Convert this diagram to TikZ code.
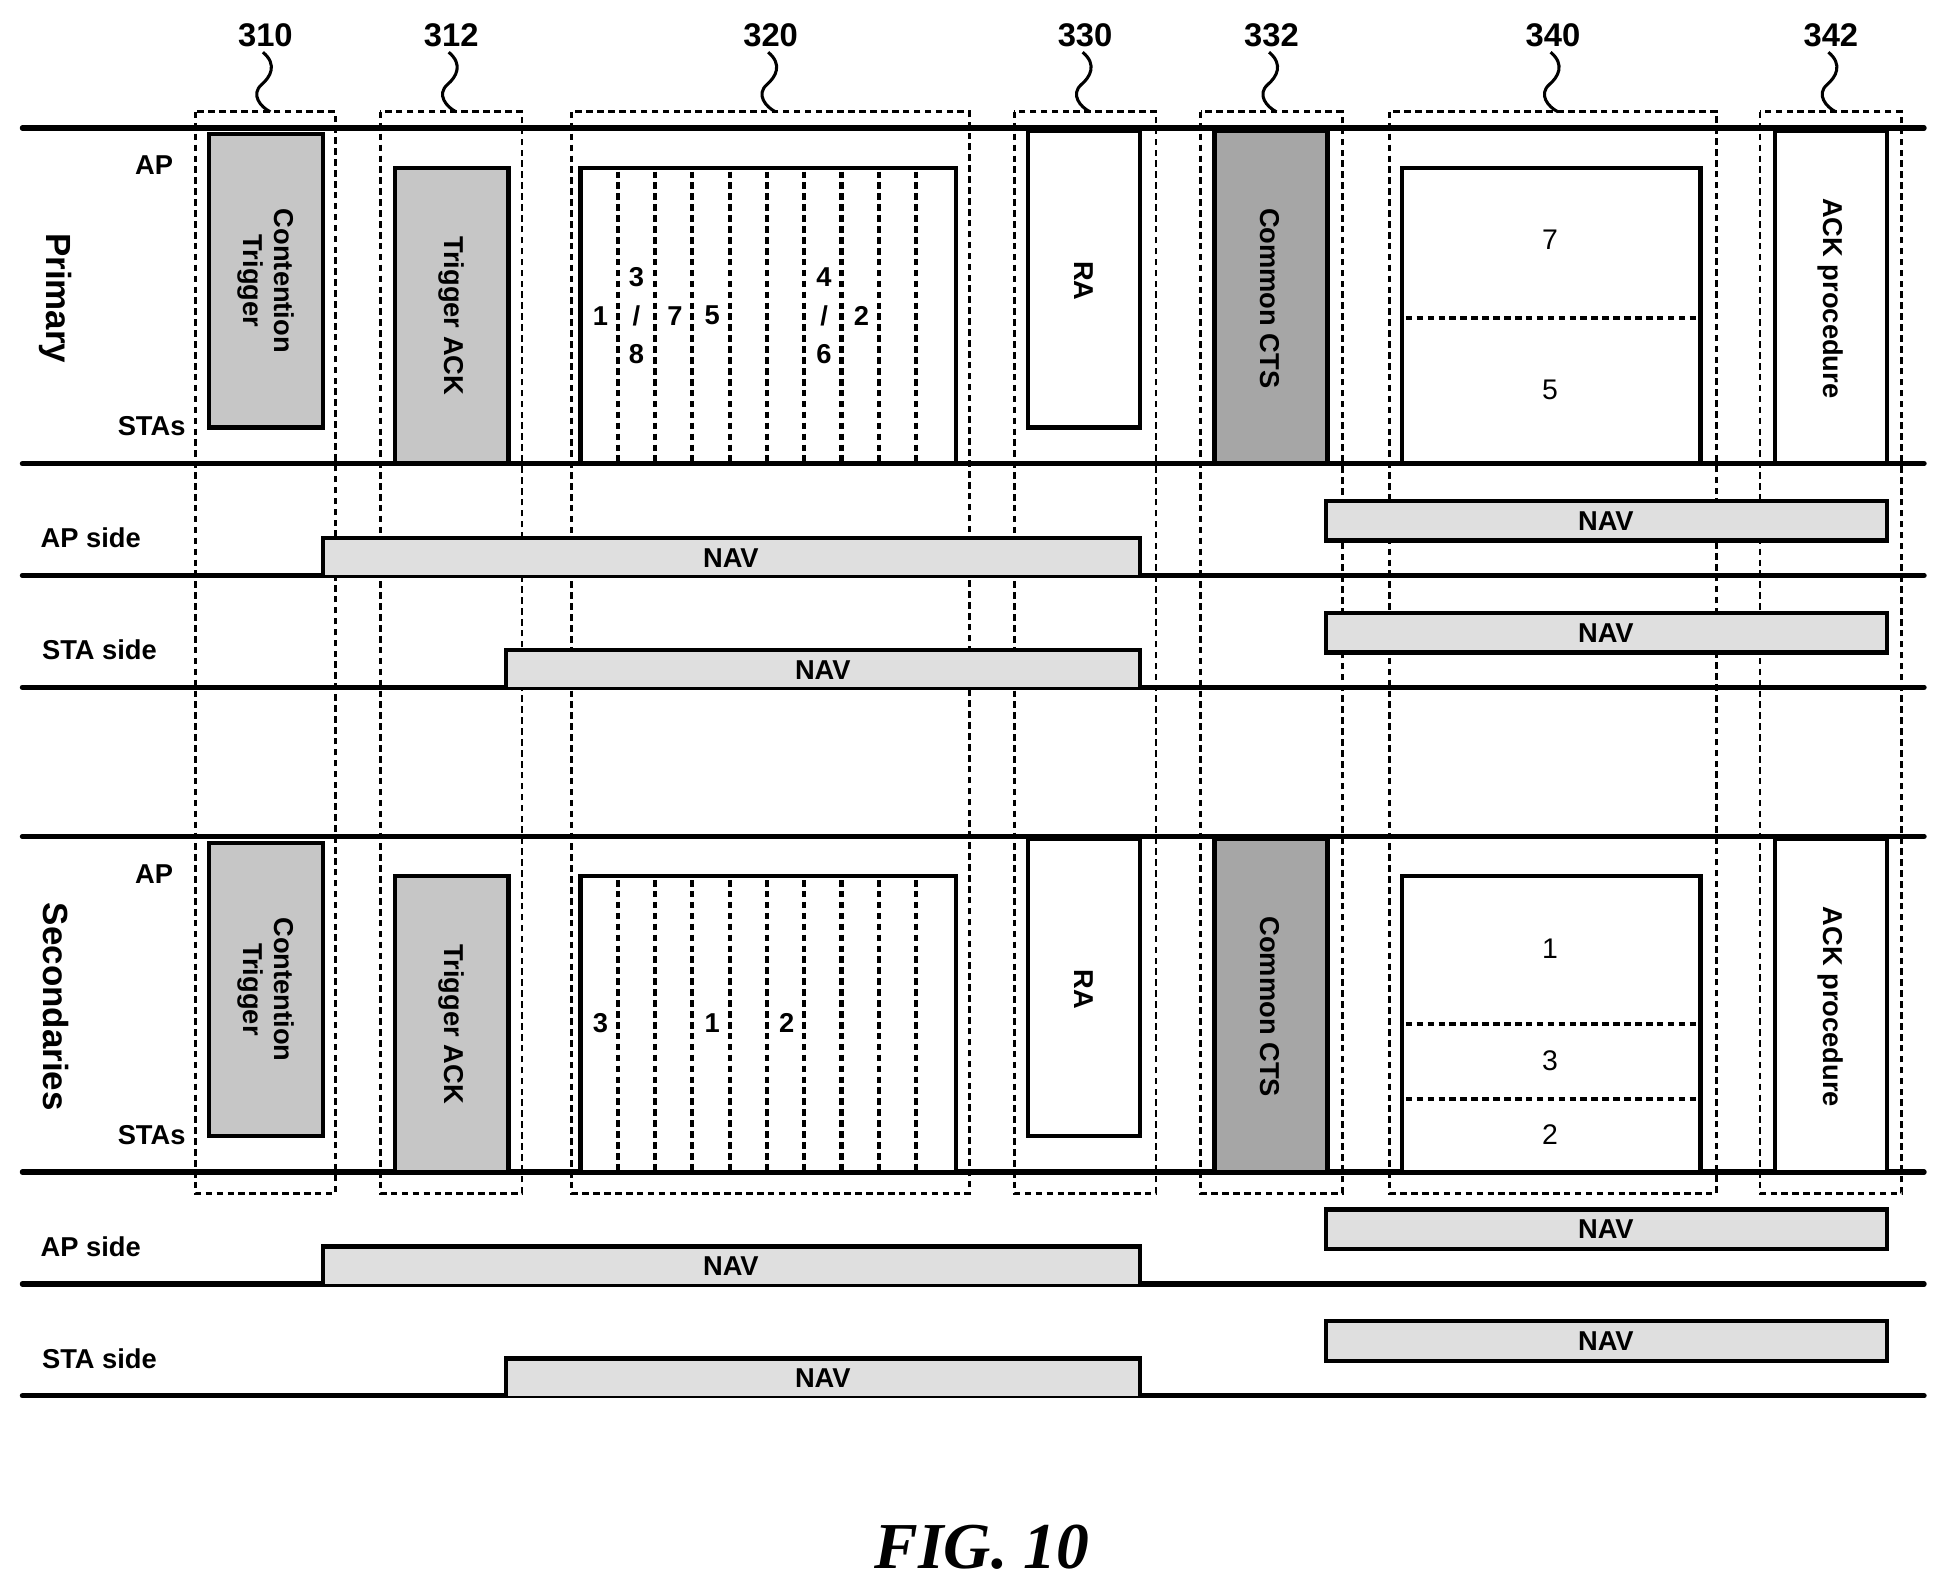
\documentclass[tikz,border=0pt]{standalone}
\usepackage{fontspec}
\setmainfont{Liberation Sans}
\begin{document}
\begin{tikzpicture}[x=0.02cm,y=-0.02cm,
    every node/.style={font=\bfseries\fontsize{12.5}{14}\selectfont},
    axis/.style={line width=2.4pt, line cap=round},
    blk/.style={draw, line width=2pt, fill=#1},
    blk/.default=white,
    nav/.style={draw, line width=2pt, fill=gray!25},
    grp/.style={draw, densely dashed, line width=1.3pt},
    sep/.style={densely dashed, line width=1.9pt},
    vtxt/.style={rotate=-90, align=center}]
  \useasboundingbox (0,0) rectangle (1560,1277);

  % dashed groups with reference numbers
  \foreach \xa/\xb/\num in {157/270/310, 306/420/312, 460/780/320, 816/930/330, 966/1080/332, 1118/1381/340, 1416/1530/342}{
    \draw[grp] (\xa,90) rectangle (\xb,960);
    \node[font=\bfseries\fontsize{15}{17}\selectfont] (n\num) at ({(\xa+\xb)/2},28) {\num};
    \draw[line width=1.4pt] ({(\xa+\xb)/2-2},42) .. controls ({(\xa+\xb)/2+10},52) and ({(\xa+\xb)/2+4},62) .. ({(\xa+\xb)/2-3},68)
      .. controls ({(\xa+\xb)/2-12},76) and ({(\xa+\xb)/2-4},86) .. ({(\xa+\xb)/2+4},90);
  }

  % the two panels
  \foreach \oy/\name in {0/Primary, 570/Secondaries}{
    \begin{scope}[yshift=-\oy*0.02cm]
      \draw[axis] (18,103) -- (1548,103);
      \draw[axis] (18,373) -- (1548,373);
      \draw[axis] (18,463) -- (1548,463);
      \draw[axis] (18,553) -- (1548,553);
      \node at (124,133) {AP};
      \node at (122,343) {STAs};
      \node[rotate=-90,font=\bfseries\fontsize{16}{18}\selectfont] at (45,240) {\name};
      \node at (73,433) {AP side};
      \node at (80,523) {STA side};
      \draw[blk=gray!45] (168,108) rectangle (260,344);
      \node[vtxt] at (214,226) {Contention\\Trigger};
      \draw[blk=gray!45] (318,135) rectangle (409,373);
      \node[vtxt] at (363,254) {Trigger ACK};
      \draw[blk] (467,135) rectangle (769,373);
      \foreach \xx in {497,527,...,738}
        \draw[sep] (\xx,138) -- (\xx,371);
      \draw[blk] (827,105) rectangle (917,344);
      \node[vtxt] at (872,226) {RA};
      \draw[blk=gray!70] (977,105) rectangle (1068,373);
      \node[vtxt] at (1022,240) {Common CTS};
      \draw[blk] (1128,135) rectangle (1368,373);
      \draw[blk] (1428,105) rectangle (1518,373);
      \node[vtxt] at (1473,240) {ACK procedure};
      \draw[nav] (260,463) -- (260,433) -- (917,433) -- (917,463);
      \node at (588,449) {NAV};
      \draw[nav] (407,553) -- (407,523) -- (917,523) -- (917,553);
      \node at (662,539) {NAV};
      \draw[nav] (1067,403) rectangle (1518,435);
      \node at (1292,419) {NAV};
      \draw[nav] (1067,493) rectangle (1518,525);
      \node at (1292,509) {NAV};
    \end{scope}
  }

  % primary contents
  \node (p1) at (483,254) {1};
  \node (p3) at (512,223) {3};
  \node (ps1) at (512,254) {/};
  \node (p8) at (512,285) {8};
  \node (p7) at (543,254) {7};
  \node (p5) at (573,254) {5};
  \node (p4) at (663,223) {4};
  \node (ps2) at (663,254) {/};
  \node (p6) at (663,285) {6};
  \node (p2) at (693,254) {2};
  \draw[sep] (1131,256) -- (1365,256);
  \node[font=\fontsize{13}{14}\selectfont] (q7) at (1247,193) {7};
  \node[font=\fontsize{13}{14}\selectfont] (q5) at (1247,314) {5};

  % secondaries contents
  \node (s3) at (483,823) {3};
  \node (s1) at (573,823) {1};
  \node (s2) at (633,823) {2};
  \draw[sep] (1131,824) -- (1365,824);
  \draw[sep] (1131,884) -- (1365,884);
  \node[font=\fontsize{13}{14}\selectfont] (r1) at (1247,763) {1};
  \node[font=\fontsize{13}{14}\selectfont] (r3) at (1247,853) {3};
  \node[font=\fontsize{13}{14}\selectfont] (r2) at (1247,913) {2};

  \node[font=\fontsize{30}{34}\selectfont\bfseries\itshape\fontspec{Liberation Serif}] (fig) at (790,1245) {FIG. 10};
\end{tikzpicture}
\end{document}
